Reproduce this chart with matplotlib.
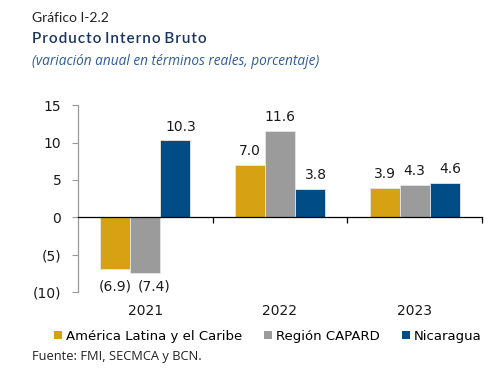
import numpy as np
import matplotlib.pyplot as plt
from matplotlib.patches import Patch
from matplotlib.transforms import blended_transform_factory

years = ['2021', '2022', '2023']
series_names = ['América Latina y el Caribe', 'Región CAPARD', 'Nicaragua']
alc = [-6.9, 7.0, 3.9]
capard = [-7.4, 11.6, 4.3]
nicaragua = [10.3, 3.8, 4.6]
colors = ['#D6A214', '#9B9B9B', '#004C86']

y_ticks = [-10, -5, 0, 5, 10, 15]


def fmt(v):
    # negatives in parentheses, Excel style
    return f'({abs(v):.1f})' if v < 0 else f'{v:.1f}'


def fmt_tick(v):
    return f'({abs(v):.0f})' if v < 0 else f'{v:.0f}'


fig = plt.figure(figsize=(4.96, 3.73), dpi=100)
ax = fig.add_axes([0.157, 0.217, 0.815, 0.501])

all_vals = alc + capard + nicaragua
lowest = min(all_vals)  # negative labels share one line under the deepest bar

# small sideways nudges so labels don't collide (points)
pos_dx = [0, 0, 4]
neg_dx = [0, 6.5, 0]

x = np.arange(len(years))
width = 0.222
for i, (vals, name, col) in enumerate(zip([alc, capard, nicaragua], series_names, colors)):
    pos = x + (i - 1) * width
    ax.bar(pos, vals, width, color=col, edgecolor='#e6e6e6', linewidth=0.6, zorder=2)
    for px, v in zip(pos, vals):
        if v >= 0:
            ax.annotate(fmt(v), (px, v), xytext=(pos_dx[i], 7), textcoords='offset points',
                        ha='center', va='baseline', fontsize=10, color='#1a1a1a')
        else:
            ax.annotate(fmt(v), (px, lowest), xytext=(neg_dx[i], -5), textcoords='offset points',
                        ha='center', va='top', fontsize=10, color='#1a1a1a')

ax.set_xlim(-0.5, 2.5)
ax.set_ylim(-10, 15)
ax.set_yticks(y_ticks)
ax.set_yticklabels([fmt_tick(t) for t in y_ticks], fontsize=10, color='#1a1a1a')
ax.tick_params(axis='y', length=4, width=0.8, color='#999999', pad=8)

# x axis sits on zero, ticks at category boundaries
ax.spines['bottom'].set_position(('data', 0))
ax.spines['bottom'].set_color('black')
ax.spines['bottom'].set_linewidth(0.9)
ax.set_xticks([0.5, 1.5, 2.5])
ax.set_xticklabels([])
ax.tick_params(axis='x', length=4, width=0.9, direction='out')
ax.spines['left'].set_color('#999999')
ax.spines['left'].set_linewidth(0.9)
ax.spines['top'].set_visible(False)
ax.spines['right'].set_visible(False)

trans = blended_transform_factory(ax.transData, ax.transAxes)
for xi, yr in zip(x, years):
    ax.text(xi, -0.062, yr, transform=trans, ha='center', va='top',
            fontsize=10, color='#1a1a1a')

handles = [Patch(facecolor=c, edgecolor='none') for c in colors]
fig.legend(handles, series_names, loc='center', bbox_to_anchor=(0.54, 0.098),
           ncol=3, frameon=False, fontsize=9.5, handlelength=0.6, handleheight=0.6,
           handletextpad=0.3, columnspacing=1.7, borderaxespad=0, borderpad=0)

fig.text(0.065, 0.952, 'Gráfico I-2.2', fontsize=10, family='Lato', color='#222222', va='center')
fig.text(0.065, 0.895, 'P r o d u c t o   I n t e r n o   B r u t o'.replace(' ', '\u200a').replace('\u200a\u200a\u200a', ' '),
         fontsize=11, family='Lato', weight='semibold', color='#1B3560', va='center')
fig.text(0.065, 0.834, '(variación anual en términos reales, porcentaje)', fontsize=9.8,
         family='Open Sans', style='italic', color='#2E5C9A', va='center')
fig.text(0.065, 0.043, 'Fuente: FMI, SECMCA y BCN.', fontsize=9.3, family='Open Sans',
         color='#222222', va='center')

fig.savefig('out.png', dpi=100)
